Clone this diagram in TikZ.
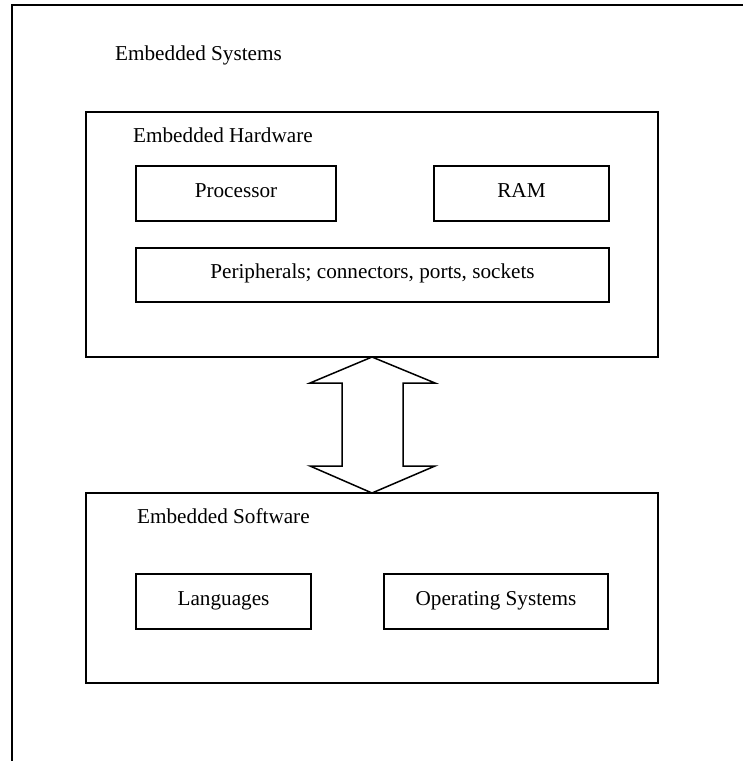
\documentclass[tikz,border=0pt]{standalone}
\usepackage{fontspec}
\setmainfont{Liberation Serif}
\usetikzlibrary{calc}

\begin{document}
\begin{tikzpicture}[x=1pt, y=-1pt,
    every node/.style={font=\fontsize{21.2}{25}\selectfont},
    box/.style={draw, line width=1.8pt, inner sep=0pt, outer sep=0pt,
        text height=12.3pt, text depth=5.3pt},
    title/.style={anchor=base west, inner sep=0pt},
    link/.style={line width=1.5pt, line join=miter}]

% Page and outer frame (runs off the right and bottom edges)
\useasboundingbox (0,0) rectangle (743,761);
\clip (0,0) rectangle (743,761);
\draw[line width=2pt] (12,790) -- (12,5) -- (780,5);

\node[title] (sys) at (115,60) {Embedded Systems};

% Hardware block
\node[box, minimum width=572pt, minimum height=245pt] (hw) at (372,234.5) {};
\node[title] (hwtitle) at (133,142) {Embedded Hardware};
\node[box, minimum width=200pt, minimum height=55pt] (cpu) at (236,193.5) {Processor};
\node[box, minimum width=175pt, minimum height=55pt] (ram) at (521.5,193.5) {RAM};
\node[box, minimum width=473pt, minimum height=54pt] (periph) at (372.5,275)
    {Peripherals; connectors, ports, sockets};

% Software block
\node[box, minimum width=572pt, minimum height=190pt] (sw) at (372,588) {};
\node[title] (swtitle) at (137,523) {Embedded Software};
\node[box, minimum width=175pt, minimum height=55pt] (lang) at (223.5,601.5) {Languages};
\node[box, minimum width=224pt, minimum height=55pt] (os) at (496,601.5) {Operating Systems};

% Double block arrow between the two blocks
\draw[link] (hw.south) -- ++(63,26) -- ++(-32,0) -- ++(0,83) -- ++(32,0)
    -- (sw.north) -- ++(-62,-27) -- ++(32,0) -- ++(0,-83) -- ++(-32,0) -- cycle;

\end{tikzpicture}
\end{document}
